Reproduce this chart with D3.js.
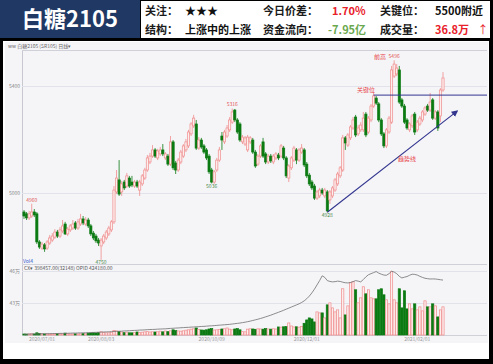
<!DOCTYPE html>
<html>
<head>
<meta charset="utf-8">
<script src="https://cdn.jsdelivr.net/npm/d3@7"></script>
<style>
  body { margin: 0; background: #000; }
  svg { display: block; font-family: "Noto Sans CJK SC", "Noto Sans", sans-serif; }
</style>
</head>
<body>
<svg id="chart" width="493" height="364"></svg>
<script>
// 白糖2105 daily candles, oldest first
const opens = [
  4929,4922,4907,4914,4929,4922,4817,4794,4806,4794,4813,4824,4835,4854,4839,4858,4884,4847,4862,4869,
  4888,4869,4884,4903,4884,4899,4877,4850,4839,4824,4802,4817,4832,4847,4862,4892,5004,5049,5004,5041,
  5026,5056,5041,5026,5041,5011,5034,5056,5086,5116,5138,5161,5131,5146,5161,5131,5138,5108,5191,5112,
  5086,5116,5138,5161,5176,5221,5251,5258,5168,5198,5176,5161,5138,5086,5041,5086,5123,5213,5191,5213,
  5236,5265,5310,5273,5258,5191,5183,5161,5191,5198,5153,5108,5138,5191,5146,5116,5138,5116,5131,5142,
  5138,5168,5131,5056,5094,5123,5161,5123,5153,5161,5108,5067,5041,5026,4981,4989,5011,4989,5004,4974,
  4989,5011,5034,5064,5086,5206,5179,5206,5243,5284,5221,5236,5236,5295,5228,5273,5325,5355,5333,5273,
  5221,5176,5228,5265,5437,5445,5460,5348,5325,5273,5236,5251,5295,5236,5258,5273,5295,5325,5310,5348,
  5280,5303,5288,5385
];
const highs = [
  4936,4929,4933,4960,4940,4929,4824,4817,4813,4824,4843,4850,4865,4862,4873,4899,4892,4873,4884,4899,
  4895,4903,4922,4914,4910,4907,4884,4858,4847,4832,4832,4847,4862,4877,4899,5026,5086,5123,5045,5049,
  5075,5064,5064,5049,5049,5049,5071,5094,5142,5150,5179,5168,5165,5172,5183,5153,5146,5213,5198,5120,
  5131,5161,5183,5202,5236,5265,5292,5273,5209,5206,5183,5168,5146,5094,5086,5131,5172,5228,5236,5254,
  5284,5316,5314,5280,5265,5217,5213,5217,5213,5206,5161,5146,5183,5206,5153,5146,5146,5146,5153,5150,
  5183,5176,5138,5108,5138,5176,5168,5168,5183,5168,5116,5075,5049,5034,5011,5019,5019,5019,5011,5011,
  5026,5056,5079,5101,5217,5213,5224,5254,5284,5292,5254,5265,5303,5303,5288,5333,5374,5363,5340,5280,
  5228,5243,5288,5475,5496,5482,5475,5355,5333,5280,5265,5295,5303,5273,5288,5310,5325,5333,5374,5355,
  5310,5310,5392,5452
];
const lows = [
  4903,4899,4899,4907,4910,4809,4791,4787,4780,4787,4806,4817,4828,4832,4832,4850,4843,4839,4854,4862,
  4862,4862,4877,4880,4877,4869,4839,4824,4813,4802,4750,4809,4824,4839,4854,4884,4996,4989,4989,5011,
  5019,5019,5022,5019,5019,4989,5026,5049,5079,5108,5131,5131,5123,5138,5138,5123,5101,5101,5086,5071,
  5079,5108,5131,5153,5168,5213,5243,5161,5161,5165,5146,5123,5071,5036,5034,5079,5116,5161,5183,5206,
  5228,5258,5265,5221,5191,5183,5176,5153,5183,5146,5094,5101,5131,5131,5108,5108,5112,5108,5123,5123,
  5131,5123,5056,5041,5086,5116,5108,5116,5146,5097,5056,5026,5011,4974,4974,4981,4993,4981,4928,4959,
  4981,5004,5026,5056,5079,5161,5172,5198,5236,5209,5213,5228,5228,5209,5221,5265,5318,5329,5265,5213,
  5168,5168,5221,5258,5430,5437,5333,5318,5258,5236,5228,5243,5217,5228,5251,5265,5288,5303,5303,5273,
  5273,5232,5265,5378
];
const closes = [
  4914,4907,4922,4929,4918,4817,4798,4809,4791,4817,4832,4839,4854,4839,4862,4877,4847,4865,4877,4884,
  4869,4892,4903,4888,4899,4877,4847,4832,4821,4813,4824,4839,4854,4869,4892,5011,5056,4996,5034,5019,
  5064,5026,5030,5041,5026,5041,5064,5086,5131,5138,5161,5138,5157,5161,5146,5146,5108,5191,5094,5086,
  5123,5153,5176,5191,5228,5258,5280,5168,5198,5172,5153,5131,5079,5041,5079,5123,5161,5198,5228,5243,
  5273,5303,5273,5228,5198,5209,5206,5209,5206,5153,5101,5138,5176,5138,5116,5138,5120,5138,5146,5131,
  5176,5131,5064,5101,5131,5168,5123,5161,5168,5105,5064,5034,5019,4981,5004,5011,5000,5011,4933,5004,
  5019,5049,5071,5094,5206,5187,5217,5247,5273,5217,5243,5254,5280,5217,5280,5325,5363,5336,5273,5221,
  5176,5236,5280,5460,5482,5467,5340,5325,5265,5243,5258,5288,5228,5265,5280,5303,5318,5310,5340,5280,
  5303,5243,5385,5430
];
// volume, 万手
const volumes = [
  0.6,0.5,0.6,0.7,0.6,1.3,0.9,0.7,0.6,0.6,0.5,0.6,0.6,0.7,0.6,0.6,1.1,0.7,0.6,0.6,
  0.7,0.6,0.7,0.8,0.7,1.1,1.2,1.3,1.2,1.4,1.9,1.4,1.3,1.3,1.7,2.6,2.4,2.0,1.8,1.4,
  1.7,1.3,1.3,1.4,1.8,1.4,1.7,1.9,2.0,1.8,1.9,1.8,1.9,2.3,1.9,2.4,2.0,2.5,3.1,2.6,
  2.4,2.3,2.5,2.9,3.1,3.5,3.7,4.2,3.2,3.0,2.9,3.1,3.6,3.8,3.0,3.1,3.2,3.6,3.7,4.2,
  3.5,3.1,3.6,3.8,3.1,2.0,1.9,3.5,3.7,3.6,3.4,3.7,3.6,3.5,3.8,3.6,3.5,3.7,3.6,4.8,
  4.7,4.9,5.0,7.2,5.4,4.8,4.9,4.7,5.0,7.0,9.0,10.2,9.6,7.8,13.8,13.2,13.2,10.2,18.0,19.2,
  16.2,13.8,15.0,10.2,27.6,12.0,17.4,31.2,31.8,27.0,19.2,22.2,28.8,24.6,27.0,22.2,21.6,21.6,27.0,27.6,
  24.0,21.0,18.6,37.8,21.0,19.2,27.6,16.2,26.4,15.6,18.6,15.6,18.6,15.0,16.8,14.4,20.4,16.8,16.8,18.6,
  17.4,10.8,15.0,16.8
];
// open interest, 万手
const openInterest = [
  40.08,40.08,40.09,40.09,40.10,40.10,40.11,40.11,40.12,40.12,40.13,40.13,40.14,40.14,40.15,40.15,40.16,40.16,40.17,40.18,
  40.18,40.19,40.20,40.20,40.21,40.22,40.23,40.24,40.25,40.26,40.27,40.28,40.29,40.30,40.31,40.33,40.34,40.35,40.36,40.38,
  40.39,40.40,40.42,40.43,40.44,40.46,40.47,40.48,40.50,40.51,40.52,40.53,40.55,40.56,40.57,40.58,40.60,40.62,40.63,40.65,
  40.66,40.68,40.69,40.71,40.72,40.74,40.75,40.77,40.78,40.80,40.81,40.83,40.85,40.86,40.88,40.90,40.92,40.94,40.96,40.98,
  41.00,41.03,41.06,41.09,41.12,41.16,41.20,41.25,41.30,41.36,41.42,41.48,41.55,41.62,41.70,41.78,41.86,41.95,42.04,42.13,
  42.22,42.32,42.42,42.52,42.62,42.72,42.82,42.92,43.05,43.20,43.40,43.65,43.95,44.30,44.70,45.10,45.55,45.40,45.10,45.02,
  44.98,45.00,45.05,45.02,44.95,44.90,44.88,44.92,45.00,45.10,45.05,44.98,45.20,45.45,45.65,45.75,45.85,45.95,45.80,45.70,
  45.62,45.60,45.75,45.98,45.90,45.75,45.50,45.35,45.42,45.48,45.60,45.70,45.68,45.62,45.50,45.40,45.32,45.28,45.25,45.26,
  45.25,45.22,45.18,45.15
];

const dateTicks = [
  { i: 7, label: "2020/07/01" },
  { i: 30, label: "2020/08/03" },
  { i: 73, label: "2020/10/09" },
  { i: 110, label: "2020/12/01" },
  { i: 153, label: "2021/02/01" },
];
const priceTicks = [5400, 5000];
const oiTicks = [46, 43];

// marked extremes: [index, price, kind]
const extremes = [
  [3, 4960, "high"], [30, 4750, "low"], [73, 5036, "low"], [81, 5316, "high"],
  [118, 4928, "low"], [144, 5496, "high"],
];
const keyLevel = { from: 136, price: 5366 };
const trendLine = [{ i: 118, v: 4928 }, { i: 168.5, v: 5306 }];

const headerLabels = [["关注：", "今日价差：", "关键位："], ["结构：", "资金流向：", "成交量："]];
const headerValues = [["★★★", "1.70%", "5500附近"], ["上涨中的上涨", "-7.95亿", "36.8万"]];

const UP = "#f08c8c", UP_FILL = "#fdeeee", DOWN = "#0b7a12";

const svg = d3.select("#chart");

// ── frame and header ──────────────────────────────────────────
svg.append("rect").attr("width", 493).attr("height", 364).attr("fill", "#000");
svg.append("rect").attr("x", 0).attr("y", 0).attr("width", 140).attr("height", 38).attr("fill", "#1f3864");
svg.append("rect").attr("x", 141).attr("y", 1).attr("width", 349).attr("height", 37).attr("fill", "#fff");
svg.append("rect").attr("x", 3).attr("y", 41).attr("width", 486).attr("height", 318).attr("fill", "#fff");
svg.append("rect").attr("x", 5).attr("y", 42).attr("width", 483).attr("height", 301).attr("fill", "#f5f5f8");

svg.append("text").attr("x", 70).attr("y", 27).attr("text-anchor", "middle")
  .attr("fill", "#fff").attr("font-size", 22).attr("font-weight", "bold").text("白糖2105");

const labelX = [145, 263, 380];
const valueX = [[185, 332, 483], [185, 328, 435]];
const valueFill = [["#111", "#e8202a", "#111"], ["#111", "#6aa84f", "#e8202a"]];
const rowY = [15, 34];
headerLabels.forEach((row, r) => {
  row.forEach((txt, c) => {
    svg.append("text").attr("x", labelX[c]).attr("y", rowY[r])
      .attr("font-size", 11).attr("font-weight", "bold").attr("fill", "#1a1a1a").text(txt);
    svg.append("text").attr("x", valueX[r][c]).attr("y", rowY[r])
      .attr("text-anchor", r === 0 && c === 2 ? "end" : "start")
      .attr("font-size", 11).attr("font-weight", "bold")
      .attr("fill", valueFill[r][c]).text(headerValues[r][c]);
  });
});
svg.append("text").attr("x", 483).attr("y", 34).attr("text-anchor", "middle")
  .attr("font-size", 11).attr("fill", "#e8202a").text("↑");

// ── scales ────────────────────────────────────────────────────
const x = d3.scaleLinear().domain([0, 163]).range([24, 443]);
const y = d3.scaleLinear().domain([5000, 5400]).range([193, 86]);
const yVol = d3.scaleLinear().domain([0, 40]).range([335, 268]);
const yOI = d3.scaleLinear().domain([40, 46]).range([335, 271]);
const bodyW = 2.2;

// plot frame lines
const g = svg.append("g");
g.append("line").attr("x1", 22.5).attr("x2", 22.5).attr("y1", 50).attr("y2", 335).attr("stroke", "#c8c8d0");
[50.5, 264.5, 335.5].forEach((yy) =>
  g.append("line").attr("x1", 22).attr("x2", 487).attr("y1", yy).attr("y2", yy).attr("stroke", "#d0d0d8"));
priceTicks.forEach((p) => {
  g.append("line").attr("x1", 22).attr("x2", 487).attr("y1", Math.round(y(p)) + 0.5).attr("y2", Math.round(y(p)) + 0.5)
    .attr("stroke", "#e2e2ea");
  g.append("text").attr("x", 20).attr("y", y(p) + 2).attr("text-anchor", "end")
    .attr("font-size", 5).attr("fill", "#888").text(p);
});
oiTicks.forEach((v) => {
  g.append("line").attr("x1", 22).attr("x2", 487).attr("y1", Math.round(yOI(v)) + 0.5).attr("y2", Math.round(yOI(v)) + 0.5)
    .attr("stroke", "#e2e2ea");
  g.append("text").attr("x", 20).attr("y", yOI(v) + 2).attr("text-anchor", "end")
    .attr("font-size", 5).attr("fill", "#888").text(v + "万");
});

// toolbar and indicator captions
g.append("text").attr("x", 8).attr("y", 48).attr("font-size", 5).attr("fill", "#666")
  .text("ww 白糖2105  (SR105)  日线▾");
g.append("text").attr("x", 23).attr("y", 263).attr("font-size", 5).attr("fill", "#3355cc").text("Vol4");
g.append("text").attr("x", 24).attr("y", 270).attr("font-size", 5).attr("fill", "#555")
  .text("CX▾  398457.00(32148)   OPID 424180.00");

// date labels
dateTicks.forEach((d) => {
  g.append("text").attr("x", x(d.i)).attr("y", 341).attr("text-anchor", "middle")
    .attr("font-size", 5).attr("fill", "#999").text(d.label);
});

// ── candles ───────────────────────────────────────────────────
const candles = d3.range(opens.length).map((i) => ({
  i, o: opens[i], h: highs[i], l: lows[i], c: closes[i], v: volumes[i], oi: openInterest[i],
  up: closes[i] >= opens[i],
}));

const cg = svg.append("g");
cg.selectAll("line.wick").data(candles).join("line")
  .attr("x1", (d) => x(d.i)).attr("x2", (d) => x(d.i))
  .attr("y1", (d) => y(d.h)).attr("y2", (d) => y(d.l))
  .attr("stroke", (d) => (d.up ? UP : DOWN)).attr("stroke-width", 0.8);
cg.selectAll("rect.body").data(candles).join("rect")
  .attr("x", (d) => x(d.i) - bodyW / 2)
  .attr("y", (d) => y(Math.max(d.o, d.c)))
  .attr("width", bodyW)
  .attr("height", (d) => Math.max(0.8, Math.abs(y(d.o) - y(d.c))))
  .attr("fill", (d) => (d.up ? UP_FILL : DOWN))
  .attr("stroke", (d) => (d.up ? UP : DOWN)).attr("stroke-width", 0.7);

// volume bars
cg.selectAll("rect.vol").data(candles).join("rect")
  .attr("x", (d) => x(d.i) - bodyW / 2)
  .attr("y", (d) => yVol(d.v))
  .attr("width", bodyW)
  .attr("height", (d) => 335 - yVol(d.v))
  .attr("fill", (d) => (d.up ? UP_FILL : DOWN))
  .attr("stroke", (d) => (d.up ? UP : DOWN)).attr("stroke-width", 0.7);

// open interest line
cg.append("path").datum(candles)
  .attr("d", d3.line().x((d) => x(d.i)).y((d) => yOI(d.oi)))
  .attr("fill", "none").attr("stroke", "#707070").attr("stroke-width", 0.8);

// extremes
extremes.forEach(([i, p, kind]) => {
  cg.append("text").attr("x", x(i)).attr("y", kind === "high" ? y(p) - 2 : y(p) + 4.5)
    .attr("text-anchor", "middle").attr("font-size", 5)
    .attr("fill", kind === "high" ? "#e25555" : "#4a8a4a").text(p);
});

// ── annotations ───────────────────────────────────────────────
const ANNO = "#e8474b", LINE = "#33358f";
svg.append("defs").append("marker").attr("id", "arrow")
  .attr("viewBox", "0 0 10 10").attr("refX", 8).attr("refY", 5)
  .attr("markerWidth", 6).attr("markerHeight", 6).attr("orient", "auto")
  .append("path").attr("d", "M0,0L10,5L0,10z").attr("fill", LINE);

cg.append("line").attr("x1", x(keyLevel.from)).attr("x2", 487)
  .attr("y1", y(keyLevel.price)).attr("y2", y(keyLevel.price))
  .attr("stroke", LINE).attr("stroke-width", 1);
cg.append("line")
  .attr("x1", x(trendLine[0].i)).attr("y1", y(trendLine[0].v))
  .attr("x2", x(trendLine[1].i)).attr("y2", y(trendLine[1].v))
  .attr("stroke", LINE).attr("stroke-width", 1.1).attr("marker-end", "url(#arrow)");

cg.append("text").attr("x", 366).attr("y", y(keyLevel.price) - 3).attr("text-anchor", "middle")
  .attr("font-size", 6).attr("fill", ANNO).text("关键位");
cg.append("text").attr("x", 380).attr("y", 59).attr("text-anchor", "middle")
  .attr("font-size", 6).attr("fill", ANNO).text("前高");
cg.append("text").attr("x", 407).attr("y", 161).attr("text-anchor", "middle")
  .attr("font-size", 6).attr("fill", ANNO).text("趋势线");
</script>
</body>
</html>
